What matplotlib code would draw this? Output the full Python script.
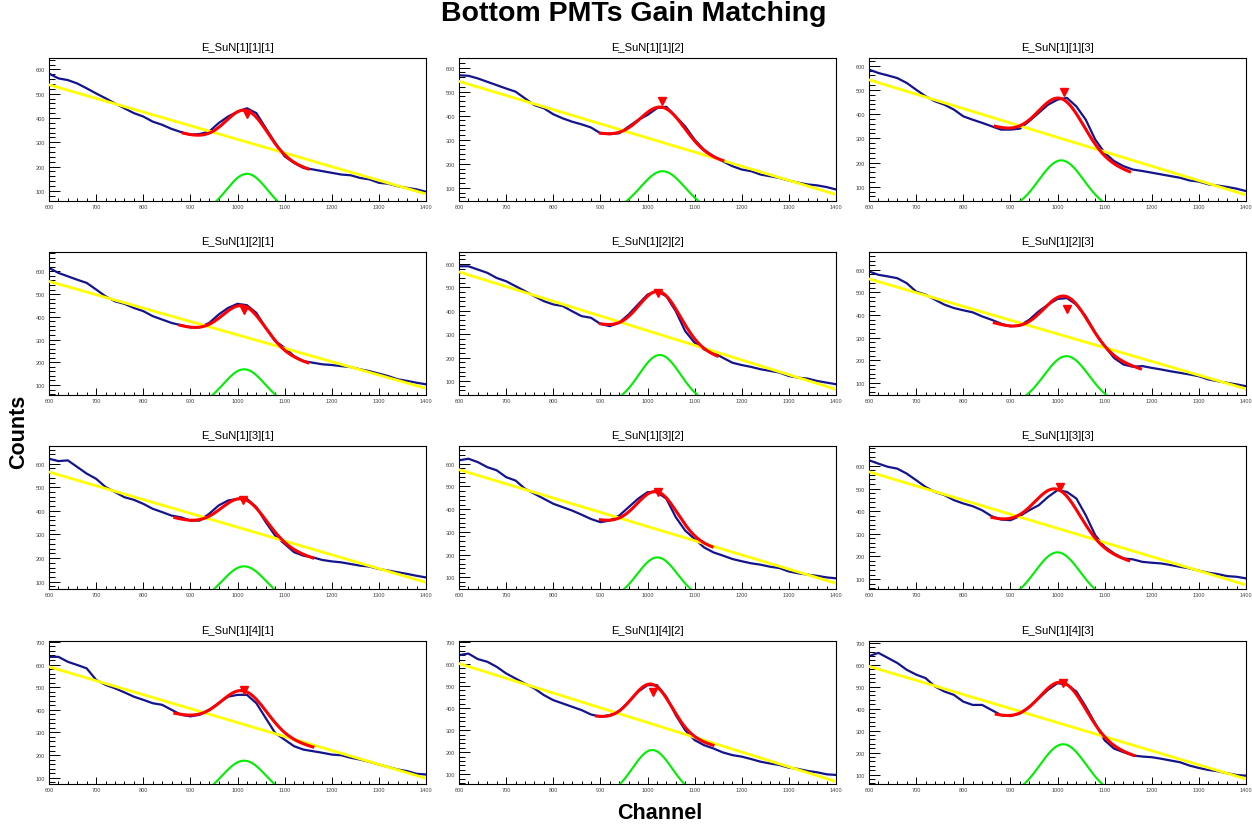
import matplotlib.pyplot as plt
import numpy as np
from matplotlib.ticker import MultipleLocator

plt.rcParams["font.family"] = ["Liberation Sans", "DejaVu Sans"]

# bin centres (channels), 20-channel steps
canales = np.arange(600, 1401, 20)

# counts per detector, rows [1]..[4], columns [1]..[3]
cuentas_11 = [583, 563, 556, 542, 522, 501, 481, 460, 440, 420, 406, 385, 372, 355, 342, 331, 334, 344, 379, 406,
              426, 440, 420, 358, 297, 242, 215, 194, 188, 181, 174, 167, 164, 153, 147, 133, 129, 119, 112, 106, 96]
cuentas_12 = [568, 566, 555, 541, 527, 513, 500, 472, 444, 431, 406, 389, 375, 364, 351, 327, 323, 327, 355, 382,
              403, 431, 437, 396, 355, 300, 258, 231, 210, 190, 176, 169, 155, 148, 141, 130, 121, 114, 110, 103, 93]
cuentas_13 = [584, 570, 560, 549, 529, 501, 474, 453, 439, 419, 391, 377, 364, 350, 336, 336, 340, 371, 405, 439,
              460, 467, 432, 377, 295, 240, 206, 185, 171, 165, 158, 151, 144, 137, 126, 121, 110, 105, 99, 92, 82]
cuentas_21 = [615, 593, 578, 563, 549, 520, 490, 468, 457, 439, 425, 403, 388, 373, 363, 354, 354, 373, 410, 439,
              457, 451, 417, 351, 293, 264, 227, 205, 198, 191, 188, 183, 179, 169, 161, 150, 139, 125, 118, 110, 103]
cuentas_22 = [590, 590, 576, 562, 540, 526, 505, 484, 462, 441, 427, 420, 398, 377, 370, 344, 334, 349, 384, 427,
              469, 484, 462, 398, 313, 263, 235, 221, 199, 178, 168, 160, 150, 143, 136, 121, 114, 110, 100, 93, 86]
cuentas_23 = [593, 578, 571, 563, 541, 504, 490, 468, 446, 431, 421, 412, 394, 379, 362, 350, 353, 379, 416, 446,
              471, 475, 446, 394, 321, 262, 210, 181, 171, 174, 166, 159, 151, 144, 137, 129, 115, 107, 100, 93, 85]
cuentas_31 = [621, 611, 614, 586, 558, 536, 501, 480, 458, 447, 430, 409, 395, 380, 373, 359, 359, 388, 423, 444,
              451, 451, 416, 352, 295, 260, 225, 210, 203, 192, 186, 182, 175, 168, 164, 154, 147, 140, 133, 125, 118]
cuentas_32 = [615, 622, 607, 585, 571, 541, 526, 490, 468, 446, 424, 409, 394, 376, 357, 343, 350, 372, 409, 446,
              475, 475, 446, 365, 306, 269, 232, 210, 196, 181, 171, 162, 156, 147, 141, 126, 118, 112, 107, 100, 96]
cuentas_33 = [625, 610, 596, 588, 566, 537, 507, 485, 471, 449, 434, 422, 404, 378, 363, 360, 378, 404, 426, 463,
              493, 485, 456, 382, 294, 243, 213, 191, 187, 176, 172, 169, 162, 154, 147, 137, 128, 122, 113, 110, 103]
cuentas_41 = [634, 634, 612, 598, 583, 532, 510, 495, 477, 458, 444, 429, 422, 400, 378, 371, 378, 400, 429, 458,
              466, 466, 429, 363, 297, 268, 239, 224, 217, 210, 202, 199, 188, 180, 170, 158, 147, 136, 129, 117, 114]
cuentas_42 = [640, 647, 622, 610, 587, 557, 534, 511, 489, 459, 436, 421, 406, 391, 371, 361, 368, 386, 428, 474,
              504, 504, 451, 368, 300, 255, 232, 217, 199, 187, 180, 169, 157, 149, 142, 130, 124, 115, 109, 100, 97]
cuentas_43 = [639, 654, 631, 608, 577, 555, 539, 501, 478, 463, 432, 417, 417, 394, 371, 366, 378, 409, 447, 486,
              516, 509, 478, 409, 332, 256, 218, 202, 187, 182, 179, 172, 164, 156, 141, 130, 121, 115, 106, 98, 95]

cuentas = [cuentas_11, cuentas_12, cuentas_13,
           cuentas_21, cuentas_22, cuentas_23,
           cuentas_31, cuentas_32, cuentas_33,
           cuentas_41, cuentas_42, cuentas_43]

titulos = ["E_SuN[1][1][1]", "E_SuN[1][1][2]", "E_SuN[1][1][3]",
           "E_SuN[1][2][1]", "E_SuN[1][2][2]", "E_SuN[1][2][3]",
           "E_SuN[1][3][1]", "E_SuN[1][3][2]", "E_SuN[1][3][3]",
           "E_SuN[1][4][1]", "E_SuN[1][4][2]", "E_SuN[1][4][3]"]

# linear background (yellow), value at 600 and at 1400
fondo_600 = [537, 543, 542, 556, 566, 560, 565, 574, 574, 590, 602, 593]
fondo_1400 = [87, 72, 66, 85, 64, 73, 97, 74, 74, 97, 67, 80]

# gaussian peak (green)
gaus_amp = [170, 169, 209, 169, 211, 218, 165, 188, 218, 175, 210, 238]
gaus_media = [1020, 1032, 1008, 1014, 1026, 1019, 1014, 1021, 1000, 1014, 1010, 1012]
gaus_sigma = [44, 47, 48, 45, 44, 48, 48, 43, 48, 48, 42, 49]

# total fit (red): range and its own linear background at both ends
ajuste_ini = [885, 900, 868, 878, 900, 866, 867, 900, 861, 867, 892, 870]
ajuste_fin = [1150, 1160, 1153, 1149, 1148, 1176, 1160, 1137, 1151, 1160, 1139, 1162]
ajuste_fondo_ini = [336, 324, 347, 361, 341, 364, 370, 350, 369, 383, 360, 371]
ajuste_fondo_fin = [188, 209, 160, 196, 202, 161, 199, 230, 180, 234, 230, 185]

# peak search marker
pico_x = [1020, 1030, 1013, 1014, 1022, 1021, 1012, 1022, 1005, 1014, 1012, 1012]
pico_y = [415, 462, 491, 432, 476, 426, 447, 475, 507, 488, 471, 516]

# y range of each pad
y_min = [58, 45, 41, 56, 40, 46, 69, 49, 56, 72, 56, 57]
y_max = [647, 640, 632, 685, 651, 679, 675, 678, 688, 704, 704, 708]

W, H = 1252, 828
fig = plt.figure(figsize=(W / 100, H / 100), dpi=100)

izq = [49, 459, 869]
arriba = [59, 253, 447, 642]
ancho, alto = 377, 143

x_fino = np.linspace(600, 1400, 801)

for i in range(12):
    fila, col = divmod(i, 3)
    ax = fig.add_axes([izq[col] / W, 1 - (arriba[fila] + alto) / H, ancho / W, alto / H])

    ax.plot(canales, cuentas[i], color="#14148c", lw=1.6, zorder=2)

    # background fit over the full range
    fondo = fondo_600[i] + (x_fino - 600) * (fondo_1400[i] - fondo_600[i]) / 800
    ax.plot(x_fino, fondo, color="#ffff00", lw=2.0, zorder=3)

    # gaussian component
    gaus = gaus_amp[i] * np.exp(-0.5 * ((x_fino - gaus_media[i]) / gaus_sigma[i]) ** 2)
    ax.plot(x_fino, gaus, color="#00ee00", lw=1.5, zorder=3)

    # total fit inside its range
    xr = np.linspace(ajuste_ini[i], ajuste_fin[i], 200)
    fondo_r = ajuste_fondo_ini[i] + (xr - ajuste_ini[i]) * (ajuste_fondo_fin[i] - ajuste_fondo_ini[i]) / (ajuste_fin[i] - ajuste_ini[i])
    total = fondo_r + gaus_amp[i] * np.exp(-0.5 * ((xr - gaus_media[i]) / gaus_sigma[i]) ** 2)
    ax.plot(xr, total, color="#ff0000", lw=2.2, zorder=4)

    ax.plot(pico_x[i], pico_y[i], marker="v", color="#ff0000", ms=6, zorder=5)

    ax.set_xlim(600, 1400)
    ax.set_ylim(y_min[i], y_max[i])
    ax.xaxis.set_major_locator(MultipleLocator(100))
    ax.xaxis.set_minor_locator(MultipleLocator(20))
    ax.yaxis.set_major_locator(MultipleLocator(100))
    ax.yaxis.set_minor_locator(MultipleLocator(20))
    ax.tick_params(axis="both", which="both", direction="in", top=False, right=False,
                   labelsize=4, labelcolor="#444444", width=0.7)
    ax.tick_params(axis="x", which="major", length=5, pad=2)
    ax.tick_params(axis="x", which="minor", length=2.5)
    ax.tick_params(axis="y", which="major", length=8, pad=3)
    ax.tick_params(axis="y", which="minor", length=4)
    for spine in ax.spines.values():
        spine.set_linewidth(0.8)

    fig.text((izq[col] + ancho / 2) / W, 1 - (arriba[fila] - 11) / H, titulos[i],
             ha="center", va="center", fontsize=8)

fig.text(634 / W, 1 - 14 / H, "Bottom PMTs Gain Matching", ha="center", va="center",
         fontsize=20.5, fontweight="bold")
fig.text(19 / W, 1 - 432 / H, "Counts", ha="center", va="center", rotation=90,
         fontsize=15.5, fontweight="bold")
fig.text(660 / W, 1 - 814 / H, "Channel", ha="center", va="center",
         fontsize=15.5, fontweight="bold")

fig.savefig("out.png", dpi=100)
